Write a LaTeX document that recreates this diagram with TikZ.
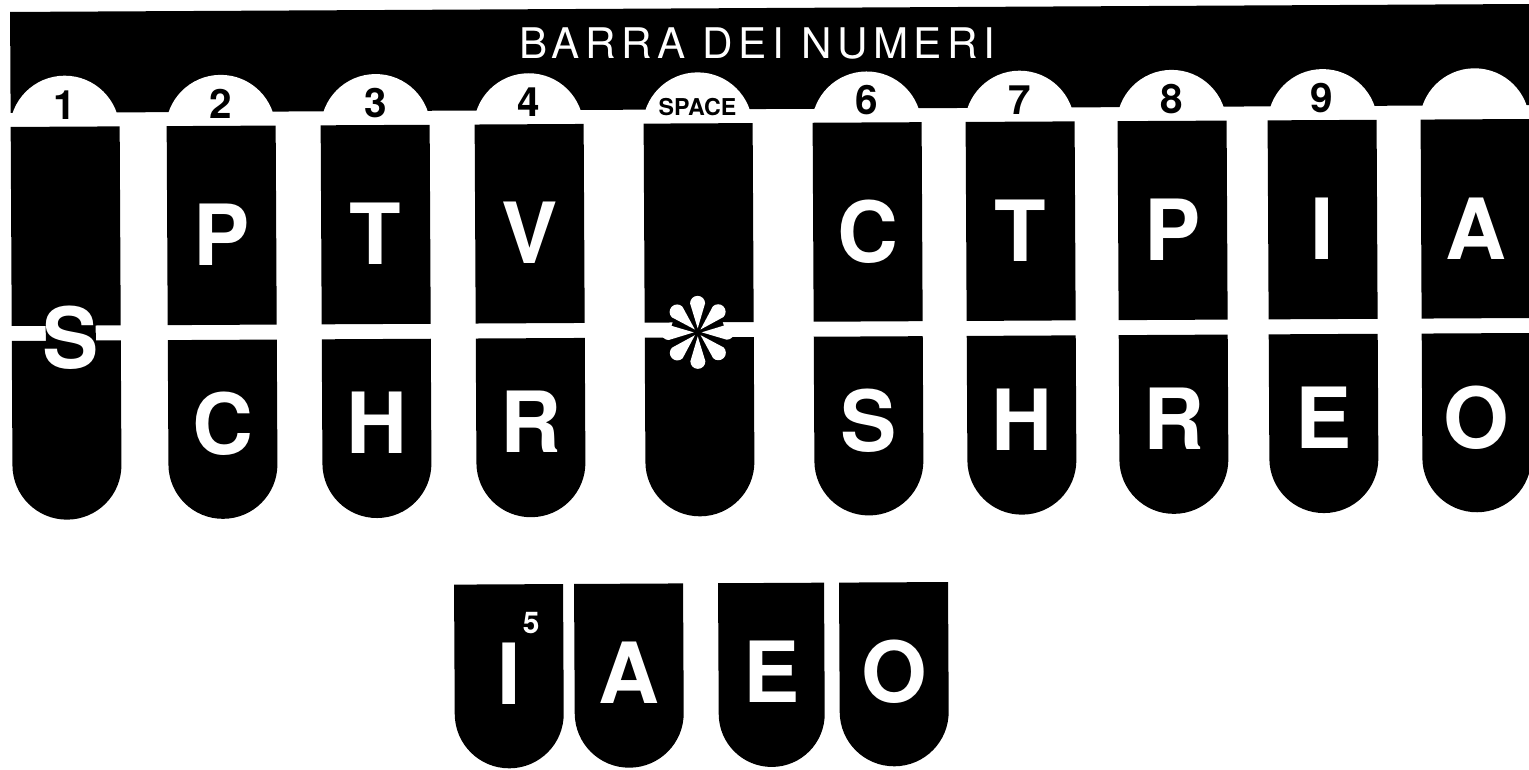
\documentclass[tikz,border=0pt]{standalone}
\usepackage{fontspec}
\setmainfont{TeX Gyre Heros}
\usepackage{tikz}
\usetikzlibrary{calc}

\begin{document}
\begin{tikzpicture}[x=0.01cm, y=0.01cm,
    keyfill/.style={fill=black},
    keylabel/.style={text=white, inner sep=0pt, font=\bfseries\fontsize{24}{24}\selectfont},
    tablabel/.style={inner sep=0pt, font=\bfseries\fontsize{11.5}{11.5}\selectfont}]
  \useasboundingbox (0,0) rectangle (1529,-770);
  \clip (0,0) rectangle (1529,-770);
  \begin{scope}[rotate around={0.3:(765,-385)}]
    % --- number bar ---
    \fill (12,-8) rectangle (1580,-109);
    \node[text=white, inner sep=0pt, font=\fontsize{12}{12}\selectfont\addfontfeature{LetterSpace=13}]
      (bar) at (759,-43) {BARRA DEI NUMERI};
    % --- white tabs cut into the bar ---
    \foreach \cx in {66,222,377,530,699,868,1021,1173,1324,1476}
      \fill[white] (\cx,-127) circle[radius=55];
    % --- upper and lower keys ---
    \foreach \xl in {12,168,322,476,645,814,967,1119,1269,1422} {
      \fill[keyfill] (\xl,-123) rectangle ++(109,-199);
      \fill[keyfill] (\xl,-337) -- (\xl,-461.5) arc[start angle=180, end angle=360, radius=54.5]
        -- (\xl+109,-337) -- cycle;
    }
    % black bridges behind S and *
    \fill[keyfill] (46,-318) rectangle (96,-345);
    \fill[keyfill] (698,-332) circle[radius=27];
    % --- key letters ---
    \foreach \nm/\xl/\up/\lo in {k2/168/P/C, k3/322/T/H, k4/476/V/R, k6/814/C/S,
        k7/967/T/H, k8/1119/P/R, k9/1269/I/E, k10/1422/A/O} {
      \node[keylabel] (\nm-up) at (\xl+54.5,-232) {\up};
      \node[keylabel] (\nm-lo) at (\xl+54.5,-421) {\lo};
    }
    \node[keylabel] (k1-s) at (71,-334) {S};
    % --- asterisk on the space key ---
    \begin{scope}[shift={(698,-332)}]
      \foreach \a in {0,45,...,315}
        \fill[white, rotate=\a] (4,0) -- (29,7.5) arc[start angle=90, end angle=-90, radius=7.5] -- cycle;
    \end{scope}
    % --- tab numbers ---
    \foreach \cx/\num in {66/1, 222/2, 377/3, 530/4, 868/6, 1021/7, 1173/8, 1323/9}
      \node[tablabel] (tab\num) at (\cx,-101) {\num};
    \node[tablabel, font=\bfseries\fontsize{6.6}{6.6}\selectfont] (tabspace) at (699,-107) {SPACE};
    % --- vowel keys ---
    \foreach \nm/\xl/\w/\ltr in {vi/453/109/I, va/573/109/A, ve/717/106/E, vo/838/109/O} {
      \fill[keyfill] (\xl,-583) -- (\xl,{-767+\w/2}) arc[start angle=180, end angle=360, radius=\w/2]
        -- (\xl+\w,-583) -- cycle;
      \node[keylabel] (\nm) at (\xl+\w/2,-672) {\ltr};
    }
    \node[tablabel, text=white, font=\bfseries\fontsize{8.5}{8.5}\selectfont] (five) at (530,-622) {5};
  \end{scope}
\end{tikzpicture}
\end{document}
